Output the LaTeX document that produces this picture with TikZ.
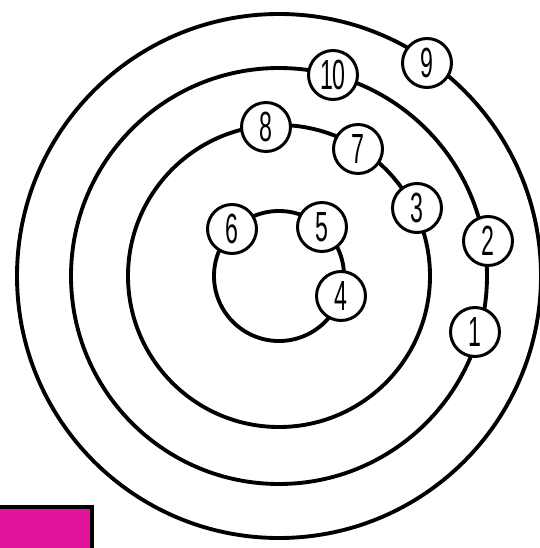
\documentclass[tikz,border=0pt]{standalone}
\usepackage{fontspec}
\newfontfamily\numfont[FakeStretch=0.55]{Liberation Sans}
\definecolor{tabpink}{RGB}{226,18,154}

\begin{document}
\begin{tikzpicture}[x=0.02cm, y=-0.02cm, line width=2.2pt,
  num/.style={circle, draw, line width=1.7pt, fill=white, minimum size=0.98cm,
    inner sep=0pt, font=\numfont\fontsize{24}{24}\selectfont}]

  \useasboundingbox (0,0) rectangle (540,548);
  \coordinate (c) at (279,276);

  % rings
  \draw (c) circle [radius=65];
  \draw (c) circle [radius=151];
  \draw (c) circle [radius=208];
  \draw (c) circle [radius=262];

  % numbered stops
  \node[num] (n1) at (475,332) {1};
  \node[num] (n2) at (488,241) {2};
  \node[num] (n3) at (417,208) {3};
  \node[num] (n4) at (341,296) {4};
  \node[num] (n5) at (322,227) {5};
  \node[num] (n6) at (232,229) {6};
  \node[num] (n7) at (358,149) {7};
  \node[num] (n8) at (266,127) {8};
  \node[num] (n9) at (427,63) {9};
  \node[num] (n10) at (333,75) {10};

  % corner tab
  \fill[tabpink] (0,507) rectangle (92,548);
  \draw (0,507) -- (92,507) -- (92,548);

\end{tikzpicture}
\end{document}
